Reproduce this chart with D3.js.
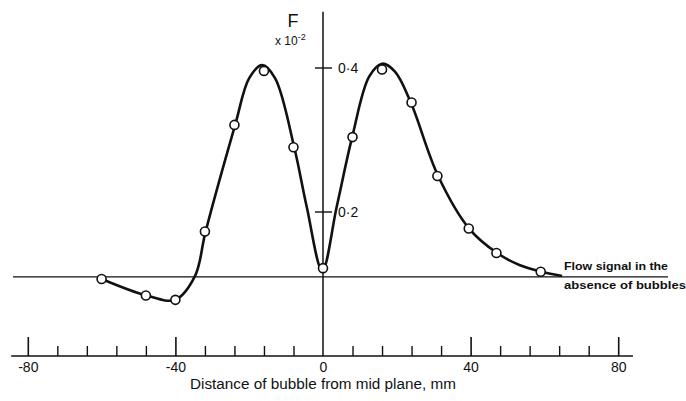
<!DOCTYPE html>
<html>
<head>
<meta charset="utf-8">
<script src="https://cdn.jsdelivr.net/npm/d3@7"></script>
<style>
  html, body { margin: 0; padding: 0; background: #fff; }
  svg { display: block; }
  text { font-family: "Liberation Sans", Arial, sans-serif; fill: #111; }
</style>
</head>
<body>
<svg id="chart" width="686" height="401"></svg>
<script>
// Measured signal F (x 10^-2) against bubble distance from the mid plane (mm)
const distanceMm = [-60, -48, -40, -32, -24, -16, -8, 0, 8, 16, 24, 31, 39.5, 47, 59];
const signalF    = [0.107, 0.084, 0.078, 0.173, 0.321, 0.396, 0.290, 0.122, 0.304, 0.398, 0.352, 0.250, 0.177, 0.143, 0.117];

// Hand-faired curve through the measurements
const curveMm = [-60, -47.8, -40.1, -34.7, -31.8, -23.8, -20, -16.5, -13, -7.8, -4.4, -0.2,
                 3.7, 7.9, 12.5, 16, 19.5, 23.8, 31.2, 39.6, 47.2, 53.4, 59.3, 64.8];
const curveF  = [0.107, 0.084, 0.078, 0.111, 0.173, 0.321, 0.386, 0.404, 0.386, 0.290, 0.207, 0.119,
                 0.207, 0.304, 0.388, 0.406, 0.395, 0.352, 0.250, 0.177, 0.143, 0.126, 0.117, 0.111];

// Flow signal level with no bubbles present, and the span of its reference line (mm)
const flowSignalLevel = 0.110;
const flowLineSpan = [-84, 93.5];

// Axis ticks
const majorTicksX = [-80, -40, 0, 40, 80];
const majorTickLabelsX = ["-80", "-40", "0", "40", "80"];
const minorTicksX = [-72, -64, -56, -48, -32, -24, -16, -8, 8, 16, 24, 32, 48, 56, 64, 72];
const ticksY = [0.2, 0.4];
const tickLabelsY = ["0·2", "0·4"];
const xAxisSpan = [-84.5, 84];
const yAxisTop = 0.478;

const svg = d3.select("#chart");

const x = d3.scaleLinear().domain([-80, 80]).range([27.8, 618.2]);
const y = d3.scaleLinear().domain([0, 0.4]).range([356, 68]);

// Horizontal distance axis
svg.append("line")
  .attr("x1", x(xAxisSpan[0])).attr("x2", x(xAxisSpan[1]))
  .attr("y1", y(0)).attr("y2", y(0))
  .attr("stroke", "#111").attr("stroke-width", 1.6);

const xMajor = d3.axisBottom(x)
  .tickValues(majorTicksX)
  .tickFormat((d, i) => majorTickLabelsX[i])
  .tickSizeInner(-19).tickSizeOuter(0).tickPadding(6);

const gx = svg.append("g").attr("transform", `translate(0,${y(0)})`).call(xMajor);
gx.select(".domain").remove();
gx.selectAll(".tick line").attr("stroke", "#111").attr("stroke-width", 1.6);
gx.selectAll(".tick text")
  .style("font-size", "14px").style("font-family", "'Liberation Sans', Arial, sans-serif")
  .attr("fill", "#111");
// the 0 tick is the vertical axis itself
gx.selectAll(".tick").filter(d => d === 0).select("line").remove();

const xMinor = d3.axisBottom(x)
  .tickValues(minorTicksX).tickFormat("")
  .tickSizeInner(-10).tickSizeOuter(0);
const gxm = svg.append("g").attr("transform", `translate(0,${y(0)})`).call(xMinor);
gxm.select(".domain").remove();
gxm.selectAll(".tick line").attr("stroke", "#111").attr("stroke-width", 1.4);

// Axis title
svg.append("text")
  .attr("x", x(0)).attr("y", 389)
  .attr("text-anchor", "middle")
  .attr("textLength", 266).attr("lengthAdjust", "spacingAndGlyphs")
  .style("font-size", "14px")
  .text("Distance of bubble from mid plane, mm");

// Vertical F axis
svg.append("line")
  .attr("x1", x(0)).attr("x2", x(0))
  .attr("y1", y(yAxisTop)).attr("y2", y(0))
  .attr("stroke", "#111").attr("stroke-width", 1.5);

const gy = svg.append("g");
gy.selectAll("line.ytick").data(ticksY).join("line")
  .attr("class", "ytick")
  .attr("x1", x(0) - 8).attr("x2", x(0) + 9)
  .attr("y1", d => y(d)).attr("y2", d => y(d))
  .attr("stroke", "#111").attr("stroke-width", 1.4);
gy.selectAll("text.ylab").data(ticksY).join("text")
  .attr("class", "ylab")
  .attr("x", x(0) + 15).attr("y", d => y(d) + 5)
  .style("font-size", "14px")
  .text((d, i) => tickLabelsY[i]);

svg.append("text")
  .attr("x", 293).attr("y", 27)
  .attr("text-anchor", "middle")
  .style("font-size", "18px")
  .text("F");

const scaleLabel = svg.append("text")
  .attr("x", 275).attr("y", 45)
  .style("font-size", "12px").attr("fill", "#111");
scaleLabel.append("tspan").attr("fill", "#111").text("x 10");
scaleLabel.append("tspan").attr("fill", "#111").attr("dy", -5).style("font-size", "9px").text("-2");

// Reference line: flow signal without bubbles
svg.append("line")
  .attr("x1", x(flowLineSpan[0])).attr("x2", x(flowLineSpan[1]))
  .attr("y1", y(flowSignalLevel)).attr("y2", y(flowSignalLevel))
  .attr("stroke", "#111").attr("stroke-width", 1.3);

svg.append("text")
  .attr("x", 564).attr("y", 270)
  .attr("textLength", 104).attr("lengthAdjust", "spacingAndGlyphs")
  .style("font-size", "11px").style("font-weight", "bold")
  .text("Flow signal in the");
svg.append("text")
  .attr("x", 564).attr("y", 289)
  .attr("textLength", 122).attr("lengthAdjust", "spacingAndGlyphs")
  .style("font-size", "11px").style("font-weight", "bold")
  .text("absence of bubbles");

// Faired curve
const curvePts = curveMm.map((d, i) => [d, curveF[i]]);
svg.append("path")
  .datum(curvePts)
  .attr("fill", "none")
  .attr("stroke", "#111")
  .attr("stroke-width", 2.6)
  .attr("stroke-linejoin", "round")
  .attr("d", d3.line().x(d => x(d[0])).y(d => y(d[1])).curve(d3.curveCatmullRom.alpha(0.5)));

// Measured points
const pts = distanceMm.map((d, i) => [d, signalF[i]]);
svg.selectAll("circle.pt").data(pts).join("circle")
  .attr("class", "pt")
  .attr("cx", d => x(d[0])).attr("cy", d => y(d[1]))
  .attr("r", 4.5)
  .attr("fill", "#fff")
  .attr("stroke", "#111")
  .attr("stroke-width", 1.6);
</script>
</body>
</html>
